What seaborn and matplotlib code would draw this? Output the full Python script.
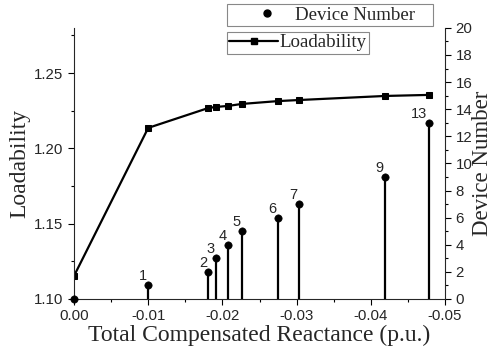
import numpy as np
import matplotlib.pyplot as plt
import seaborn as sns
import pandas as pd
from matplotlib.ticker import MultipleLocator
from matplotlib.lines import Line2D

# Loadability curve
reactance = [0.0, -0.0100, -0.0181, -0.0191, -0.0208, -0.0226, -0.0275, -0.0303, -0.0419, -0.0478]
loadability = [1.1153, 1.2136, 1.2268, 1.2275, 1.2282, 1.2295, 1.2314, 1.2321, 1.2348, 1.2355]

# Device number stems
device_x = [0.0, -0.0100, -0.0181, -0.0191, -0.0208, -0.0226, -0.0275, -0.0303, -0.0419, -0.0478]
device_n = [0, 1, 2, 3, 4, 5, 6, 7, 9, 13]

sns.set_style("ticks")
plt.rcParams['font.family'] = ['Liberation Sans', 'DejaVu Sans']

fig = plt.figure(figsize=(4.95, 3.53), dpi=100)
ax = fig.add_axes([0.1495, 0.153, 0.7495, 0.768])
ax2 = ax.twinx()

df_load = pd.DataFrame({'x': reactance, 'y': loadability})
sns.lineplot(data=df_load, x='x', y='y', ax=ax, color='black', lw=1.6,
             marker='s', markersize=4.5, markeredgecolor='black')

df_dev = pd.DataFrame({'x': device_x, 'n': device_n})
ax2.vlines(df_dev['x'], 0, df_dev['n'], color='black', lw=1.6)
sns.scatterplot(data=df_dev, x='x', y='n', ax=ax2, color='black', s=28,
                edgecolor='black', zorder=5, clip_on=False)
for xv, nv in zip(device_x, device_n):
    if nv > 0:
        ax2.annotate(str(nv), (xv, nv), xytext=(-1, 1.5), textcoords='offset points',
                     ha='right', va='bottom', fontsize=10.5)

ax.set_xlim(0, -0.05)
ax.set_ylim(1.10, 1.28)
ax2.set_ylim(0, 20)

ax.xaxis.set_major_locator(MultipleLocator(0.01))
ax.xaxis.set_minor_locator(MultipleLocator(0.005))
ax.yaxis.set_major_locator(MultipleLocator(0.05))
ax.yaxis.set_minor_locator(MultipleLocator(0.025))
ax2.yaxis.set_major_locator(MultipleLocator(2))
ax2.yaxis.set_minor_locator(MultipleLocator(1))
ax.set_xticks([0, -0.01, -0.02, -0.03, -0.04, -0.05])
ax.set_xticklabels(['0.00', '-0.01', '-0.02', '-0.03', '-0.04', '-0.05'])
ax.set_yticks([1.10, 1.15, 1.20, 1.25])
ax.set_yticklabels(['1.10', '1.15', '1.20', '1.25'])

for a in (ax, ax2):
    a.tick_params(which='major', length=4, width=0.8, labelsize=10.8, color='black')
    a.tick_params(which='minor', length=2, width=0.8, color='black')
    a.spines['top'].set_visible(False)
    for s in a.spines.values():
        s.set_linewidth(0.8)
ax.spines['right'].set_visible(False)
ax2.spines['left'].set_visible(False)
ax2.spines['bottom'].set_visible(False)

serif = ['Liberation Serif', 'DejaVu Serif']
ax.set_xlabel('Total Compensated Reactance (p.u.)', family=serif, fontsize=17, labelpad=1)
ax.set_ylabel('Loadability', family=serif, fontsize=17, labelpad=3)
ax2.set_ylabel('Device Number', family=serif, fontsize=16.5, labelpad=0)

h1 = [Line2D([], [], color='black', marker='o', ls='none', markersize=5)]
h2 = [Line2D([], [], color='black', marker='s', lw=1.6, markersize=4.5)]
leg1 = fig.legend(h1, ['Device Number'], loc='lower left',
                  bbox_to_anchor=(227 / 495, 1 - 26 / 353, 206 / 495, 24 / 353), mode='expand',
                  frameon=True, fancybox=False, edgecolor='#888888', framealpha=1,
                  prop={'family': serif, 'size': 13.6}, handlelength=4.0,
                  handletextpad=-0.5, borderpad=0.12, borderaxespad=0)
leg1.get_frame().set_linewidth(0.8)
leg2 = fig.legend(h2, ['Loadability'], loc='upper left', bbox_to_anchor=(227 / 495, 1 - 32 / 353),
                  frameon=True, fancybox=False, edgecolor='#888888', framealpha=1,
                  prop={'family': serif, 'size': 13.6}, handlelength=2.6,
                  handletextpad=0.05, borderpad=0.12, borderaxespad=0)
leg2.get_frame().set_linewidth(0.8)

fig.savefig('out.png', dpi=100)
